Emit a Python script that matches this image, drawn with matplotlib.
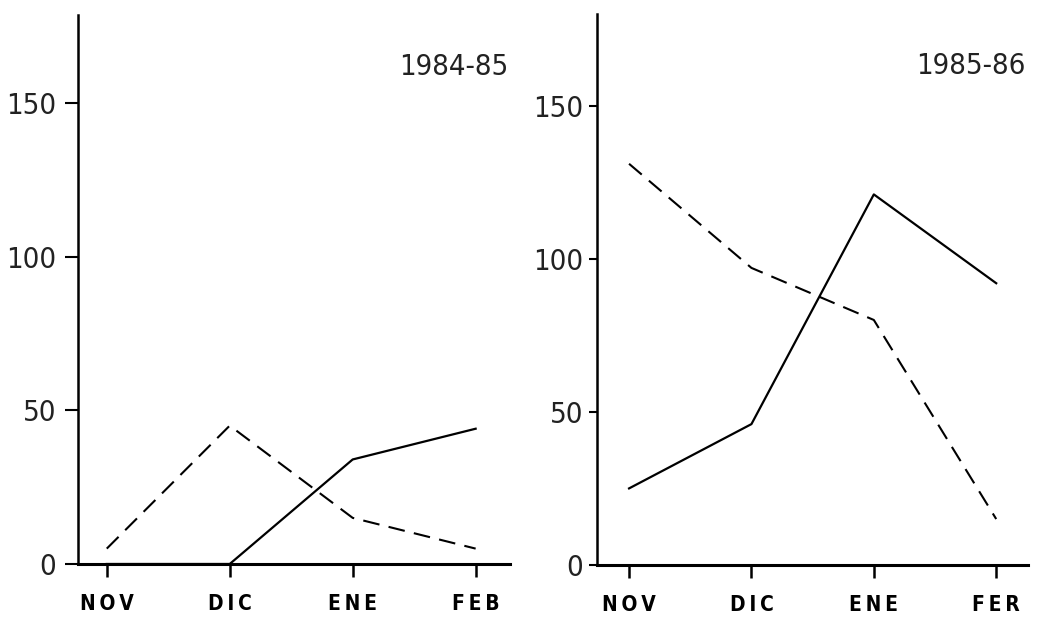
import matplotlib

matplotlib.use("Agg")
import matplotlib.pyplot as plt

MONTHS_A = ["NOV", "DIC", "ENE", "FEB"]
MONTHS_B = ["NOV", "DIC", "ENE", "FER"]
X = [0, 1, 2, 3]

# 1984-85
solid_a = [0, 0, 34, 44]
dashed_a = [5, 45, 15, 5]
# 1985-86
solid_b = [25, 46, 121, 92]
dashed_b = [131, 97, 80, 15]

YTICKS = [0, 50, 100, 150]


def spaced(s):
    # letter-spaced month labels, as on the original figure
    return "\u2009".join(s)


fig = plt.figure(figsize=(10.38, 6.18), dpi=100)

panels = [
    ([0.0749, 0.0874, 0.4165, 0.888], (-0.236, 3.28), 178.5, MONTHS_A,
     solid_a, dashed_a, "1984-85", 13, 6),
    ([0.5749, 0.0858, 0.4155, 0.892], (-0.264, 3.26), 180, MONTHS_B,
     solid_b, dashed_b, "1985-86", 8, 4),
]

for rect, xlim, ytop, months, solid, dashed, label, ytl, ypad in panels:
    ax = fig.add_axes(rect)
    ax.plot(X, solid, color="black", lw=1.6, clip_on=False)
    ax.plot(X, dashed, color="black", lw=1.5, ls=(0, (8, 4.5)), clip_on=False)

    ax.set_xlim(*xlim)
    ax.set_ylim(0, ytop)
    for side in ("top", "right"):
        ax.spines[side].set_visible(False)
    ax.spines["left"].set_linewidth(1.8)
    ax.spines["bottom"].set_linewidth(2.2)

    ax.set_xticks(X)
    ax.set_xticklabels([spaced(m) for m in months], fontweight="bold",
                       fontsize=15, fontstretch="condensed")
    ax.set_yticks(YTICKS)
    ax.set_yticklabels([str(v) for v in YTICKS], fontsize=21,
                       fontstretch="condensed", color="#222222")
    ax.tick_params(axis="x", length=9.5, width=1.8, pad=12)
    ax.tick_params(axis="y", length=ytl * 0.72, width=1.5, pad=ypad)

    ax.text(0.995, 0.905, label, transform=ax.transAxes, ha="right",
            va="center", fontsize=21, fontstretch="condensed",
            color="#222222")

fig.savefig("out.png", dpi=100)
